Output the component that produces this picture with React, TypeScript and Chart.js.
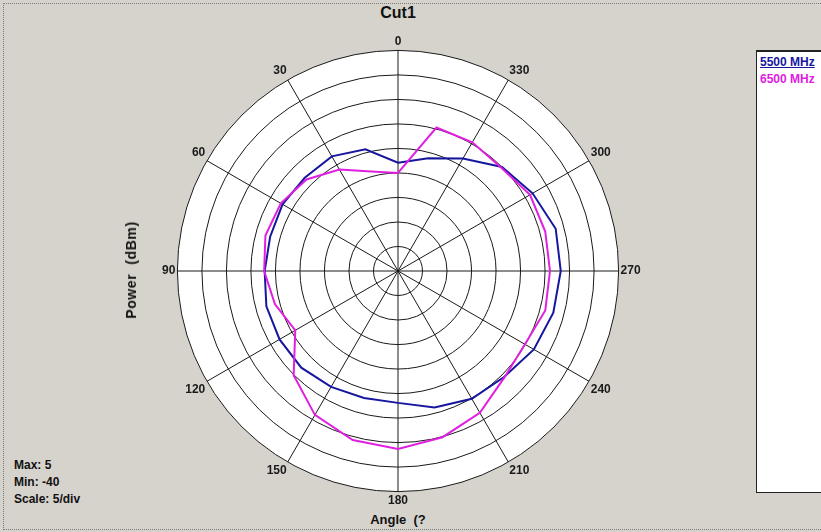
import React, { useEffect, useRef } from "react";
import { Chart, registerables } from "chart.js";

Chart.register(...registerables);

// Angles (degrees, counter-clockwise from top), sampled every 15°
const angles = [0, 15, 30, 45, 60, 75, 90, 105, 120, 135, 150, 165, 180, 195, 210, 225, 240, 255, 270, 285, 300, 315, 330, 345];

// Power (dBm) for each angle
const series5500 = [-17.9, -14.3, -13.0, -13.1, -12.8, -13.0, -12.8, -12.2, -12.1, -12.1, -12.7, -13.2, -13.1, -11.2, -9.9, -9.4, -8.0, -7.2, -6.8, -6.7, -8.3, -10.0, -13.5, -16.2];
const series6500 = [-20.0, -19.0, -16.1, -13.6, -12.4, -12.0, -12.7, -14.0, -15.8, -9.9, -6.1, -4.3, -3.7, -4.9, -6.6, -9.3, -10.1, -8.9, -9.0, -8.9, -8.9, -10.2, -9.7, -9.7];

const seriesNames = ["5500 MHz", "6500 MHz"];
const seriesColors = ["#16169e", "#e020e0"];

const scaleMin = -40;
const scaleMax = 5;
const scaleStep = 5;

// Chart.js radar goes clockwise; reorder so angles increase counter-clockwise
const order = angles.map((_, i) => (angles.length - i) % angles.length);
const chartLabels = order.map((k) => String(angles[k]));
const chart5500 = order.map((k) => series5500[k]);
const chart6500 = order.map((k) => series6500[k]);

export default function App() {
  const canvasRef = useRef<HTMLCanvasElement | null>(null);

  useEffect(() => {
    const canvas = canvasRef.current;
    if (!canvas) return;
    const chart = new Chart(canvas, {
      type: "radar",
      data: {
        labels: chartLabels,
        datasets: [
          {
            label: seriesNames[1],
            data: chart6500,
            borderColor: seriesColors[1],
            borderWidth: 2,
            pointRadius: 0,
            fill: false,
            tension: 0,
            order: 0,
          },
          {
            label: seriesNames[0],
            data: chart5500,
            borderColor: seriesColors[0],
            borderWidth: 2,
            pointRadius: 0,
            fill: false,
            tension: 0,
            order: 1,
          },
        ],
      },
      options: {
        responsive: false,
        animation: false,
        devicePixelRatio: 1,
        plugins: {
          legend: { display: false },
          tooltip: { enabled: false },
          title: { display: false },
        },
        scales: {
          r: {
            min: scaleMin,
            max: scaleMax,
            backgroundColor: "#ffffff",
            ticks: { stepSize: scaleStep, display: false },
            grid: { circular: true, color: "#1a1a1a", lineWidth: 1 },
            angleLines: {
              display: true,
              color: "#1a1a1a",
              lineWidth: (ctx: any) => (ctx.index % 2 === 0 ? 1 : 0),
            },
            pointLabels: {
              display: true,
              padding: 2,
              color: "#1a1a1a",
              font: { family: "'Liberation Sans', Arial, sans-serif", size: 12, weight: "bold" },
              callback: (label: string) => (Number(label) % 30 === 0 ? label : ""),
            },
          },
        },
      },
    });
    return () => chart.destroy();
  }, []);

  const bold = "'Liberation Sans', Arial, sans-serif";

  return (
    <div
      style={{
        position: "fixed",
        left: 0,
        top: 0,
        width: 821,
        height: 532,
        background: "#d6d3cd",
        overflow: "hidden",
        fontFamily: bold,
      }}
    >
      <div
        style={{
          position: "absolute",
          left: 3,
          top: 3,
          width: 830,
          height: 525,
          border: "1px dotted #7a7a7a",
        }}
      />
      <canvas
        ref={canvasRef}
        width={600}
        height={474}
        style={{ position: "absolute", left: 98, top: 34, width: 600, height: 474 }}
      />
      <div
        style={{
          position: "absolute",
          left: 298,
          top: 4,
          width: 200,
          textAlign: "center",
          fontWeight: "bold",
          fontSize: 16,
          color: "#111",
        }}
      >
        Cut1
      </div>
      <div
        style={{
          position: "absolute",
          left: 131,
          top: 270,
          transform: "translate(-50%, -50%) rotate(-90deg)",
          whiteSpace: "pre",
          fontWeight: "bold",
          fontSize: 14,
          letterSpacing: "0.6px",
          color: "#111",
        }}
      >
        {"Power  (dBm)"}
      </div>
      <div
        style={{
          position: "absolute",
          left: 298,
          top: 512,
          width: 200,
          textAlign: "center",
          fontWeight: "bold",
          fontSize: 13,
          color: "#111",
          whiteSpace: "pre",
        }}
      >
        {"Angle  (?"}
      </div>
      <div
        style={{
          position: "absolute",
          left: 14,
          top: 457,
          fontWeight: "bold",
          fontSize: 12,
          lineHeight: "17px",
          color: "#111",
        }}
      >
        <div>Max: {scaleMax}</div>
        <div>Min: {scaleMin}</div>
        <div>Scale: {scaleStep}/div</div>
      </div>
      <div
        style={{
          position: "absolute",
          left: 756,
          top: 50,
          width: 80,
          height: 440,
          background: "#ffffff",
          border: "1px solid #222",
          borderTop: "2px solid #222",
        }}
      >
        {seriesNames.map((n, i) => (
          <div
            key={n}
            style={{
              position: "absolute",
              left: 3,
              top: 3 + i * 17,
              fontWeight: "bold",
              fontSize: 12,
              whiteSpace: "nowrap",
              color: seriesColors[i],
              textDecoration: i === 0 ? "underline" : "none",
            }}
          >
            {n}
          </div>
        ))}
      </div>
    </div>
  );
}
